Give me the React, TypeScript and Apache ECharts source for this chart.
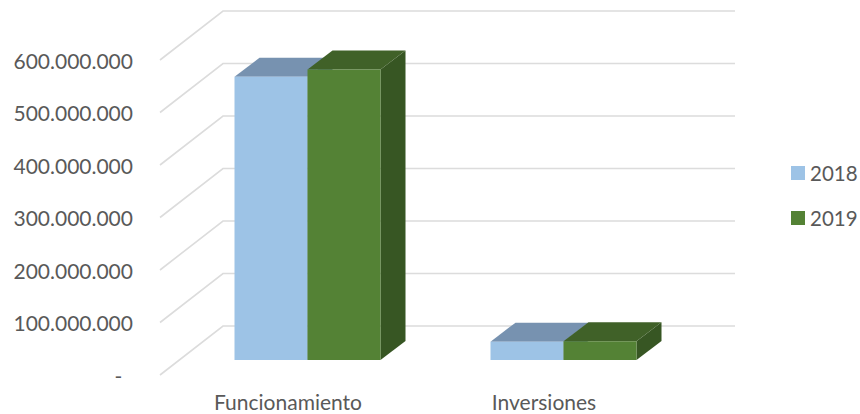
import React, { useEffect, useRef } from "react";
import * as echarts from "echarts";

const categories = ["Funcionamiento", "Inversiones"];
const values2018 = [539500000, 35000000];
const values2019 = [553500000, 35500000];
const axisTicks = [0, 100000000, 200000000, 300000000, 400000000, 500000000, 600000000];

const FONT = "Lato, sans-serif";
const WALL = { dx: 63, dy: -49 };
const BAR_OFFSET = { dx: 19.5, dy: -15 };
const DEPTH = { dx: 25, dy: -19 };
const BAR_W = 73;

function formatTick(v: number) {
  if (v === 0) return "-\u00a0\u00a0";
  return String(v).replace(/\B(?=(\d{3})+$)/g, ".");
}

function barSeries(name: string, values: number[], side: -1 | 0, colors: { front: string; top: string; right: string }) {
  return {
    type: "custom",
    name,
    clip: false,
    silent: true,
    z: side === -1 ? 3 : 4,
    itemStyle: { color: colors.front },
    encode: { x: 0, y: 1 },
    data: values.map((v, i) => [i, v]),
    renderItem: (_p: any, api: any) => {
      const top = api.coord([api.value(0), api.value(1)]);
      const base = api.coord([api.value(0), 0]);
      const x0 = top[0] + BAR_OFFSET.dx + side * BAR_W;
      const x1 = x0 + BAR_W;
      const yT = top[1] + BAR_OFFSET.dy;
      const yB = base[1] + BAR_OFFSET.dy;
      const poly = (points: number[][], fill: string) => ({
        type: "polygon",
        shape: { points },
        style: { fill, stroke: null },
      });
      return {
        type: "group",
        children: [
          poly([[x1, yT], [x1 + DEPTH.dx, yT + DEPTH.dy], [x1 + DEPTH.dx, yB + DEPTH.dy], [x1, yB]], colors.right),
          poly([[x0, yT], [x0 + DEPTH.dx, yT + DEPTH.dy], [x1 + DEPTH.dx, yT + DEPTH.dy], [x1, yT]], colors.top),
          poly([[x0, yT], [x1, yT], [x1, yB], [x0, yB]], colors.front),
        ],
      };
    },
  };
}

export default function App() {
  const ref = useRef<HTMLDivElement>(null);
  useEffect(() => {
    document.body.style.margin = "0";
    const chart = echarts.init(ref.current!, undefined, { renderer: "svg" });
    chart.setOption({
      animation: false,
      backgroundColor: "#ffffff",
      grid: { left: 160, top: 60, width: 512, height: 315, containLabel: false },
      legend: {
        left: 791,
        top: 161,
        padding: 0,
        orient: "vertical",
        icon: "rect",
        itemWidth: 14,
        itemHeight: 14,
        itemGap: 21,
        selectedMode: false,
        data: ["2018", "2019"],
        textStyle: { fontFamily: FONT, fontSize: 20.5, lineHeight: 24, color: "#595959" },
      },
      xAxis: {
        type: "category",
        data: categories,
        axisLine: { show: false },
        axisTick: { show: false },
        axisLabel: { fontFamily: FONT, fontSize: 21, lineHeight: 18, color: "#595959", margin: 17 },
      },
      yAxis: {
        type: "value",
        min: 0,
        max: 600000000,
        interval: 100000000,
        axisLine: { show: false },
        axisTick: { show: false },
        splitLine: { show: false },
        axisLabel: {
          fontFamily: FONT,
          fontSize: 21,
          color: "#595959",
          margin: 27,
          padding: [0, 0, 5, 0],
          formatter: formatTick,
        },
      },
      series: [
        {
          type: "custom",
          name: "walls",
          clip: false,
          silent: true,
          z: 1,
          encode: { x: 0, y: 1 },
          data: axisTicks.map((t) => [0, t]),
          renderItem: (p: any, api: any) => {
            const y = api.coord([0, api.value(1)])[1];
            const left = p.coordSys.x;
            const right = left + p.coordSys.width;
            return {
              type: "polyline",
              shape: {
                points: [
                  [left, y],
                  [left + WALL.dx, y + WALL.dy],
                  [right + WALL.dx, y + WALL.dy],
                ],
              },
              style: { stroke: "#dcdcdc", lineWidth: 1.6, fill: "none" },
            };
          },
        },
        barSeries("2018", values2018, -1, { front: "#9dc3e6", top: "#7792b0", right: "#5f7d9c" }),
        barSeries("2019", values2019, 0, { front: "#548235", top: "#406128", right: "#375623" }),
      ],
    });
    return () => chart.dispose();
  }, []);
  return <div ref={ref} style={{ position: "absolute", left: 0, top: 0, width: 860, height: 414 }} />;
}
